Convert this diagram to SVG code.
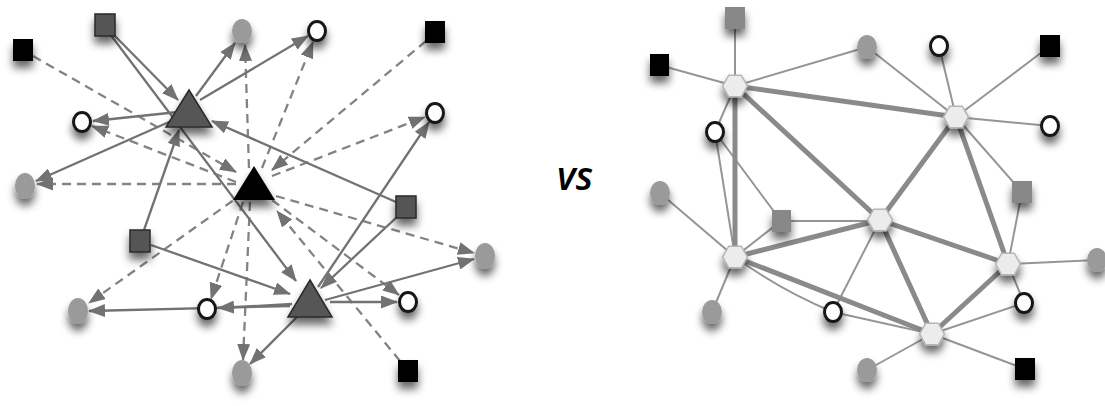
<svg xmlns="http://www.w3.org/2000/svg" width="1105" height="406" viewBox="0 0 1105 406">
<style>
.s{stroke:#727272;stroke-width:2.3;fill:none;marker-end:url(#ah)}
.d{stroke:#838383;stroke-width:2.3;fill:none;stroke-dasharray:9 6;marker-end:url(#ah)}
.tk{stroke:#8a8a8a;stroke-width:5;fill:none;stroke-linecap:round}
.tn{stroke:#959595;stroke-width:2;fill:none}
.bk{fill:#000}
.dq{fill:#555;stroke:#2a2a2a;stroke-width:1.5}
.gq{fill:#888}
.ge{fill:#9a9a9a}
.oc{fill:#fff;stroke:#151515;stroke-width:3}
.tr{fill:#565656;stroke:#2a2a2a;stroke-width:1.5}
.hx{fill:#ececec;stroke:#b5b5b5;stroke-width:1.5}
.nd{filter:url(#sh)}
</style>
<defs>
<marker id="ah" markerUnits="userSpaceOnUse" markerWidth="17" markerHeight="13" refX="16" refY="6.5" orient="auto" viewBox="0 0 17 13">
<path d="M0,0 L17,6.5 L0,13 z" fill="#727272"/>
</marker>
<filter id="sh" x="-70%" y="-70%" width="240%" height="280%">
<feGaussianBlur in="SourceAlpha" stdDeviation="4"/>
<feOffset dy="7" result="b"/>
<feComponentTransfer><feFuncA type="linear" slope="0.6"/></feComponentTransfer>
<feMerge><feMergeNode/><feMergeNode in="SourceGraphic"/></feMerge>
</filter>
<polygon id="hex" points="12.5,0 6.25,-10.8 -6.25,-10.8 -12.5,0 -6.25,10.8 6.25,10.8"/>
</defs>

<g id="connectors-left">
<path class="d" d="M33,56 L236,172"/>
<path class="d" d="M236,182 L92,126"/>
<path class="d" d="M236,184 L37,184"/>
<path class="d" d="M249,168 L245,45"/>
<path class="d" d="M262,168 L313,42"/>
<path class="d" d="M426,41 L272,170"/>
<path class="d" d="M272,176 L425,117"/>
<path class="d" d="M276,196 L474,253"/>
<path class="d" d="M272,200 L399,295"/>
<path class="d" d="M400,361 L277,211"/>
<path class="d" d="M250,202 L243,360"/>
<path class="d" d="M243,202 L211,299"/>
<path class="d" d="M245,192 L89,303"/>
<path class="s" d="M113,34 L178,100"/>
<path class="s" d="M110,34 L296,281"/>
<path class="s" d="M196,96 L235,43"/>
<path class="s" d="M200,100 L308,36"/>
<path class="s" d="M178,112 L93,121"/>
<path class="s" d="M178,118 L36,181"/>
<path class="s" d="M396,202 L212,121"/>
<path class="s" d="M144,230 L179,130"/>
<path class="s" d="M151,245 L290,294"/>
<path class="s" d="M398,216 L321,288"/>
<path class="s" d="M318,287 L429,122"/>
<path class="s" d="M325,300 L474,259"/>
<path class="s" d="M330,302 L397,302"/>
<path class="s" d="M292,304 L218,308"/>
<path class="s" d="M290,306 L89,311"/>
<path class="s" d="M298,316 L250,364"/>
</g>

<g id="connectors-right">
<path class="tn" d="M735,86 L735,18"/>
<path class="tn" d="M735,86 L659,65"/>
<path class="tn" d="M735,86 L867,47"/>
<path class="tn" d="M735,86 L715,132"/>
<path class="tn" d="M715,132 L735,257"/>
<path class="tn" d="M715,132 L781,221"/>
<path class="tn" d="M956,117 L867,47"/>
<path class="tn" d="M956,117 L939,46"/>
<path class="tn" d="M956,117 L1050,46"/>
<path class="tn" d="M956,117 L1050,126"/>
<path class="tn" d="M956,117 L1022,192"/>
<path class="tn" d="M781,221 L880,221"/>
<path class="tn" d="M781,221 L735,257"/>
<path class="tn" d="M660,193 L735,257"/>
<path class="tn" d="M712,312 L735,257"/>
<path class="tn" d="M735,257 Q780,290 833,312"/>
<path class="tn" d="M833,312 L880,220"/>
<path class="tn" d="M833,312 L932,334"/>
<path class="tn" d="M1008,264 L1097,260"/>
<path class="tn" d="M1008,264 L1022,192"/>
<path class="tn" d="M1008,264 L1024,303"/>
<path class="tn" d="M932,334 L1024,303"/>
<path class="tn" d="M932,334 L1025,369"/>
<path class="tn" d="M932,334 L867,370"/>
<path class="tk" d="M735,86 L956,117"/>
<path class="tk" d="M735,86 L880,220"/>
<path class="tk" d="M735,86 L735,257"/>
<path class="tk" d="M956,117 L880,220"/>
<path class="tk" d="M956,117 L1008,264"/>
<path class="tk" d="M880,220 L735,257"/>
<path class="tk" d="M880,220 L1008,264"/>
<path class="tk" d="M880,220 L932,334"/>
<path class="tk" d="M735,257 L932,334"/>
<path class="tk" d="M1008,264 L932,334"/>
</g>

<g id="A" class="nd"><rect class="bk" x="13" y="39" width="20" height="22"/></g>
<g id="B" class="nd"><rect class="dq" x="95" y="14" width="20" height="22"/></g>
<g id="C" class="nd"><ellipse class="ge" cx="242" cy="31" rx="10" ry="12"/></g>
<g id="D" class="nd"><ellipse class="oc" cx="317" cy="31" rx="8.5" ry="9.5"/></g>
<g id="E" class="nd"><rect class="bk" x="425" y="21" width="20" height="22"/></g>
<g id="F" class="nd"><ellipse class="oc" cx="82" cy="122" rx="8.5" ry="9.5"/></g>
<g id="G" class="nd"><ellipse class="oc" cx="435" cy="113" rx="8.5" ry="9.5"/></g>
<g id="H" class="nd"><ellipse class="ge" cx="25" cy="186" rx="10" ry="13"/></g>
<g id="T1" class="nd"><polygon class="tr" points="189,90 212,127 166,127"/></g>
<g id="T2" class="nd"><polygon class="bk" points="254,166 275,200 233,200"/></g>
<g id="I" class="nd"><rect class="dq" x="396" y="196" width="20" height="22"/></g>
<g id="J" class="nd"><rect class="dq" x="130" y="230" width="20" height="22"/></g>
<g id="K" class="nd"><ellipse class="ge" cx="485" cy="256" rx="10" ry="13"/></g>
<g id="L" class="nd"><ellipse class="ge" cx="78" cy="311" rx="10" ry="13"/></g>
<g id="M" class="nd"><ellipse class="oc" cx="207" cy="309" rx="8.5" ry="9.5"/></g>
<g id="T3" class="nd"><polygon class="tr" points="310,280 332,317 288,317"/></g>
<g id="N" class="nd"><ellipse class="oc" cx="408" cy="302" rx="8.5" ry="9.5"/></g>
<g id="O" class="nd"><ellipse class="ge" cx="242" cy="373" rx="10" ry="13"/></g>
<g id="P" class="nd"><rect class="bk" x="398" y="360" width="20" height="22"/></g>

<text x="557" y="190" font-family="'Open Sans', 'DejaVu Sans', sans-serif" font-weight="600" font-style="italic" font-size="40" textLength="36" lengthAdjust="spacingAndGlyphs" fill="#000">vs</text>

<g id="H1" class="nd"><use href="#hex" class="hx" x="735" y="86"/></g>
<g id="H2" class="nd"><use href="#hex" class="hx" x="956" y="117"/></g>
<g id="H3" class="nd"><use href="#hex" class="hx" x="880" y="220"/></g>
<g id="H4" class="nd"><use href="#hex" class="hx" x="735" y="257"/></g>
<g id="H5" class="nd"><use href="#hex" class="hx" x="1008" y="264"/></g>
<g id="H6" class="nd"><use href="#hex" class="hx" x="932" y="334"/></g>
<g id="S1" class="nd"><rect class="gq" x="725" y="7" width="20" height="22"/></g>
<g id="S2" class="nd"><rect class="bk" x="650" y="54" width="19" height="22"/></g>
<g id="E1" class="nd"><ellipse class="ge" cx="867" cy="47" rx="10" ry="12"/></g>
<g id="O1" class="nd"><ellipse class="oc" cx="939" cy="46" rx="8.5" ry="9.5"/></g>
<g id="S3" class="nd"><rect class="bk" x="1040" y="35" width="20" height="22"/></g>
<g id="O2" class="nd"><ellipse class="oc" cx="1050" cy="126" rx="8.5" ry="9.5"/></g>
<g id="S4" class="nd"><rect class="gq" x="1012" y="181" width="20" height="22"/></g>
<g id="O3" class="nd"><ellipse class="oc" cx="715" cy="132" rx="8.5" ry="9.5"/></g>
<g id="E2" class="nd"><ellipse class="ge" cx="660" cy="193" rx="10" ry="12"/></g>
<g id="S5" class="nd"><rect class="gq" x="772" y="210" width="19" height="22"/></g>
<g id="E3" class="nd"><ellipse class="ge" cx="712" cy="312" rx="10" ry="12"/></g>
<g id="O4" class="nd"><ellipse class="oc" cx="833" cy="312" rx="8.5" ry="9.5"/></g>
<g id="E4" class="nd"><ellipse class="ge" cx="867" cy="370" rx="10" ry="12"/></g>
<g id="S6" class="nd"><rect class="bk" x="1015" y="358" width="20" height="22"/></g>
<g id="O5" class="nd"><ellipse class="oc" cx="1024" cy="303" rx="8.5" ry="9.5"/></g>
<g id="E5" class="nd"><ellipse class="ge" cx="1097" cy="260" rx="10" ry="12"/></g>
</svg>
